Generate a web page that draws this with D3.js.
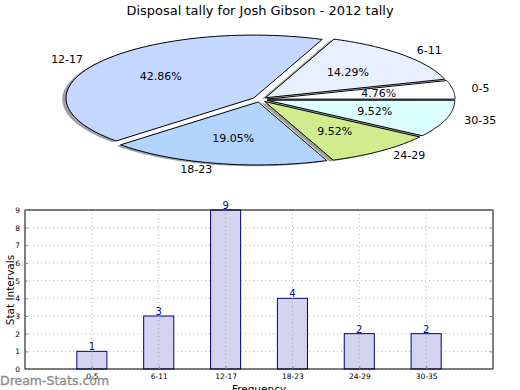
<!DOCTYPE html>
<html>
<head>
<meta charset="utf-8">
<script src="https://cdn.jsdelivr.net/npm/d3@7"></script>
<style>
  body { margin: 0; background: #fff; }
  svg { display: block; font-family: 'DejaVu Sans', sans-serif; }
</style>
</head>
<body>
<div id="wrapper"></div>
<script>
const W = 520, H = 390;

// data
const categories = ['0-5', '6-11', '12-17', '18-23', '24-29', '30-35'];
const counts = [1, 3, 9, 4, 2, 2];
const sliceColors = ['#ffffff', '#e8f0ff', '#c4d8ff', '#b3d4ff', '#d0ec8c', '#dcffff'];
const yTicks = [0, 1, 2, 3, 4, 5, 6, 7, 8, 9];
const title = 'Disposal tally for Josh Gibson - 2012 tally';

const svg = d3.select('#wrapper').append('svg')
    .attr('width', W)
    .attr('height', H);

svg.append('text')
    .attr('x', 260)
    .attr('y', 15)
    .attr('text-anchor', 'middle')
    .attr('font-size', 13)
    .attr('fill', '#000')
    .text(title);

/* ---- pie (matplotlib style, squashed into an ellipse) ---- */
const cx = 259.9, cy = 99.5, rx = 187.7, ry = 63;
const explode = 0.04;
const total = d3.sum(counts);

// angles counter-clockwise from east, in radians (matplotlib convention)
const slices = [];
let acc = 0;
counts.forEach((c, i) => {
  const a0 = acc / total * 2 * Math.PI;
  acc += c;
  const a1 = acc / total * 2 * Math.PI;
  slices.push({ cat: categories[i], value: c, a0: a0, a1: a1, mid: (a0 + a1) / 2, color: sliceColors[i] });
});

// unit circle -> screen
const px = (v) => cx + v * rx;
const py = (v) => cy - v * ry;

function wedgePath(d, ox, oy) {
  const dx = explode * Math.cos(d.mid) + ox, dy = explode * Math.sin(d.mid) + oy;
  const pts = d3.range(0, 61).map(k => {
    const a = d.a0 + (d.a1 - d.a0) * k / 60;
    return [px(dx + Math.cos(a)), py(dy + Math.sin(a))];
  });
  return 'M' + px(dx) + ',' + py(dy) + 'L' + pts.map(p => p.join(',')).join('L') + 'Z';
}

const pie = svg.append('g').attr('class', 'pie');

// shadows go under every wedge
pie.selectAll('path.shadow')
  .data(slices)
  .join('path')
    .attr('class', 'shadow')
    .attr('d', d => wedgePath(d, -0.02, -0.02))
    .attr('fill', d => {
      const c = d3.rgb(d.color);
      return d3.rgb(c.r * 0.3, c.g * 0.3, c.b * 0.3);
    })
    .attr('fill-opacity', 0.5)
    .attr('stroke', 'none');

pie.selectAll('path.wedge')
  .data(slices)
  .join('path')
    .attr('class', 'wedge')
    .attr('d', d => wedgePath(d, 0, 0))
    .attr('fill', d => d.color)
    .attr('stroke', '#000')
    .attr('stroke-width', 1)
    .attr('stroke-linejoin', 'round');

// outer labels at 1.1 radius
pie.selectAll('text.lbl')
  .data(slices)
  .join('text')
    .attr('class', 'lbl')
    .attr('x', d => px((1.1 + explode) * Math.cos(d.mid)))
    .attr('y', d => py((1.1 + explode) * Math.sin(d.mid)))
    .attr('text-anchor', d => Math.cos(d.mid) < 0 ? 'end' : 'start')
    .attr('dominant-baseline', 'central')
    .attr('font-size', 11)
    .text(d => d.cat);

// percentages at 0.6 radius
pie.selectAll('text.pct')
  .data(slices)
  .join('text')
    .attr('class', 'pct')
    .attr('x', d => px((0.6 + explode) * Math.cos(d.mid)))
    .attr('y', d => py((0.6 + explode) * Math.sin(d.mid)))
    .attr('text-anchor', 'middle')
    .attr('dominant-baseline', 'central')
    .attr('font-size', 11)
    .text(d => d3.format('.2f')(d.value / total * 100) + '%');

/* ---- bar chart ---- */
const plotL = 25, plotR = 493, plotT = 210, plotB = 369;
const x = d3.scaleLinear().domain([-1, categories.length]).range([plotL, plotR]);
const y = d3.scaleLinear().domain([0, 9]).range([plotB, plotT]);
const barW = x(0.45) - x(0);

const bars = svg.append('g').attr('class', 'bars');

// grid
bars.selectAll('line.hgrid')
  .data(yTicks)
  .join('line')
    .attr('class', 'hgrid')
    .attr('x1', plotL).attr('x2', plotR)
    .attr('y1', d => y(d)).attr('y2', d => y(d))
    .attr('stroke', '#b8b8b8')
    .attr('stroke-width', 1)
    .attr('stroke-dasharray', '1,3');

bars.selectAll('line.vgrid')
  .data(categories)
  .join('line')
    .attr('class', 'vgrid')
    .attr('x1', (d, i) => x(i)).attr('x2', (d, i) => x(i))
    .attr('y1', plotT).attr('y2', plotB)
    .attr('stroke', '#b8b8b8')
    .attr('stroke-width', 1)
    .attr('stroke-dasharray', '1,3');

bars.selectAll('rect.bar')
  .data(counts)
  .join('rect')
    .attr('class', 'bar')
    .attr('x', (d, i) => x(i) - barW / 2)
    .attr('y', d => y(d))
    .attr('width', barW)
    .attr('height', d => y(0) - y(d))
    .attr('fill', '#ccccee')
    .attr('fill-opacity', 0.85)
    .attr('stroke', '#000080')
    .attr('stroke-width', 1);

// vertical grid shows through the bars
bars.selectAll('line.vgrid2')
  .data(counts)
  .join('line')
    .attr('class', 'vgrid2')
    .attr('x1', (d, i) => x(i)).attr('x2', (d, i) => x(i))
    .attr('y1', d => y(d)).attr('y2', plotB)
    .attr('stroke', '#aaaaaa')
    .attr('stroke-width', 1)
    .attr('stroke-dasharray', '1,3');

bars.selectAll('text.val')
  .data(counts)
  .join('text')
    .attr('class', 'val')
    .attr('x', (d, i) => x(i))
    .attr('y', d => y(d) - 1)
    .attr('text-anchor', 'middle')
    .attr('font-size', 10)
    .attr('fill', '#0000aa')
    .text(d => d);

// frame
bars.append('rect')
    .attr('x', plotL).attr('y', plotT)
    .attr('width', plotR - plotL).attr('height', plotB - plotT)
    .attr('fill', 'none')
    .attr('stroke', '#000')
    .attr('stroke-width', 1);

// axes with small inward ticks
const yAxis = d3.axisLeft(y).tickValues(yTicks).tickSize(-3).tickPadding(5);
const gy = bars.append('g').attr('transform', `translate(${plotL},0)`).call(yAxis);
gy.select('.domain').remove();
gy.selectAll('.tick line').attr('stroke', '#888');
gy.selectAll('.tick text').attr('font-size', 7.5).attr('font-family', 'DejaVu Sans').attr('fill', '#000');

const gyr = bars.append('g').attr('transform', `translate(${plotR},0)`)
    .call(d3.axisRight(y).tickValues(yTicks).tickSize(-3).tickFormat(''));
gyr.select('.domain').remove();
gyr.selectAll('.tick line').attr('stroke', '#888');

const xAxis = d3.axisBottom(x).tickValues(d3.range(categories.length))
    .tickFormat(i => categories[i]).tickSize(-3).tickPadding(5);
const gx = bars.append('g').attr('transform', `translate(0,${plotB})`).call(xAxis);
gx.select('.domain').remove();
gx.selectAll('.tick line').attr('stroke', '#888');
gx.selectAll('.tick text').attr('font-size', 7.5).attr('font-family', 'DejaVu Sans').attr('fill', '#000');

svg.append('text')
    .attr('x', 259)
    .attr('y', 393)
    .attr('text-anchor', 'middle')
    .attr('font-size', 10.5)
    .text('Frequency');

svg.append('text')
    .attr('transform', 'translate(14,290) rotate(-90)')
    .attr('text-anchor', 'middle')
    .attr('font-size', 10.5)
    .text('Stat Intervals');

// watermark
svg.append('text')
    .attr('x', 0)
    .attr('y', 385)
    .attr('font-size', 12.5)
    .attr('fill', '#8a8a8a')
    .attr('stroke', '#8a8a8a')
    .attr('stroke-width', 0.3)
    .text('Dream-Stats.com');
</script>
</body>
</html>
